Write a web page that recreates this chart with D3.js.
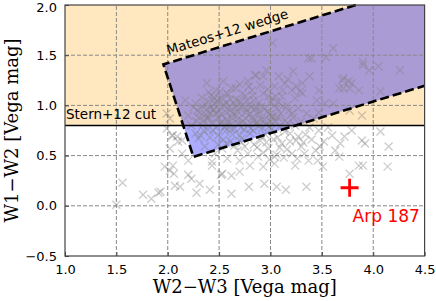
<!DOCTYPE html>
<html>
<head>
<meta charset="utf-8">
<script src="https://cdn.jsdelivr.net/npm/d3@7"></script>
<style>
  body { margin: 0; background: #fff; }
  svg { display: block; }
</style>
</head>
<body>
<div id="chart"></div>
<script>
// axis ticks
const xTicks = [1.0, 1.5, 2.0, 2.5, 3.0, 3.5, 4.0, 4.5];
const yTicks = [-0.5, 0.0, 0.5, 1.0, 1.5, 2.0];

// Stern+12 cut (W1-W2 >= 0.8)
const sternCut = 0.8;

// Mateos+12 wedge outline (W2-W3, W1-W2), drawn as dashed line
const wedgeLine = [[3.83, 2.0], [1.958, 1.408], [2.25, 0.487], [4.5, 1.196]];
// wedge fill polygon (closed by the plot corner)
const wedgeFill = [[3.83, 2.0], [1.958, 1.408], [2.25, 0.487], [4.5, 1.196], [4.5, 2.0]];

// Arp 187
const arp = { name: "Arp 187", w23: 3.77, w12: 0.18 };

// comparison sample (W2-W3, W1-W2)
const sample = [
  // low left outliers
  [1.50, 0.01], [1.56, 0.23], [1.76, 0.11], [1.84, 0.07], [1.91, 0.13], [1.93, 0.14],
  [1.97, 0.39], [2.02, 0.35], [2.05, 0.40], [2.06, 0.32], [2.07, 0.20], [2.12, 0.19],
  [2.20, 0.31], [2.23, 0.27], [2.28, 0.13], [2.31, 0.22], [2.41, 0.16], [2.43, 0.40],
  [2.52, 0.31], [2.53, 0.32], [2.62, 0.12], [2.62, 0.30], [2.70, 0.34], [2.79, 0.19],
  [2.93, 0.39], [2.94, 0.22], [3.04, 0.49], [3.06, 0.19], [3.15, 0.16], [3.24, 0.40],
  [3.33, 0.52], [3.35, 0.19], [3.46, 0.45], [3.51, 0.39], [3.67, 0.49], [3.77, 0.32],
  [3.90, 0.40], [4.14, 0.39],
  // left of the wedge
  [1.99, 0.92], [2.02, 0.87], [1.99, 0.77], [2.04, 0.70], [2.05, 0.70], [2.09, 0.69],
  [2.10, 0.64], [2.14, 0.65], [2.02, 0.57], [2.14, 0.52], [2.20, 0.45], [2.30, 0.67],
  [2.35, 0.75], [2.38, 0.87], [2.44, 0.95], [2.44, 0.75], [2.56, 0.79],
  // band below the wedge
  [2.36, 0.59], [2.46, 0.52], [2.53, 0.57], [2.61, 0.64], [2.75, 0.59], [2.88, 0.49],
  [2.98, 0.57], [3.11, 0.62], [3.21, 0.52], [3.30, 0.59], [3.37, 0.45], [3.04, 0.42],
  [2.80, 0.40], [2.68, 0.55], [2.84, 0.61], [2.93, 0.53], [3.16, 0.56], [3.26, 0.47],
  [2.58, 0.47], [2.70, 0.45], [2.43, 0.44], [3.44, 0.55], [2.99, 0.46], [3.06, 0.51],
  [2.65, 0.60], [2.70, 0.70], [2.92, 0.69], [3.14, 0.74], [3.27, 0.69], [2.85, 0.82],
  [3.01, 0.89], [3.21, 0.92],
  [2.57, 0.62], [2.72, 0.63], [2.87, 0.58], [2.96, 0.63], [3.03, 0.66], [3.09, 0.58],
  [3.19, 0.64], [3.32, 0.63], [2.49, 0.61], [2.78, 0.52], [3.13, 0.48], [3.40, 0.66],
  // right side, below the cut
  [3.47, 0.75], [3.60, 0.70], [3.68, 0.62], [3.52, 0.64], [3.79, 0.75], [3.89, 0.65],
  [3.92, 0.62], [4.07, 0.74], [3.86, 0.40], [4.15, 0.59], [3.48, 0.59], [3.89, 0.90],
  [3.47, 0.93], [3.77, 0.95], [3.61, 1.02], [3.56, 0.78], [3.72, 0.69], [3.63, 0.55],
  // dense core
  [2.25, 0.98], [2.31, 0.93], [2.36, 1.01], [2.40, 0.88], [2.45, 0.96], [2.48, 1.04],
  [2.52, 0.91], [2.55, 0.99], [2.58, 0.86], [2.61, 0.95], [2.64, 1.02], [2.67, 0.90],
  [2.70, 0.97], [2.73, 0.84], [2.76, 0.93], [2.79, 1.01], [2.82, 0.88], [2.85, 0.96],
  [2.88, 0.91], [2.91, 0.99], [2.94, 0.86], [2.97, 0.94], [3.00, 1.03], [3.03, 0.89],
  [3.06, 0.97], [3.10, 0.92], [3.14, 0.85], [3.18, 0.95], [3.22, 0.88], [3.27, 0.97],
  [2.28, 0.84], [2.34, 0.80], [2.39, 0.76], [2.43, 0.83], [2.47, 0.78], [2.51, 0.82],
  [2.56, 0.74], [2.60, 0.80], [2.65, 0.77], [2.69, 0.82], [2.74, 0.76], [2.78, 0.80],
  [2.83, 0.75], [2.87, 0.83], [2.92, 0.78], [2.96, 0.81], [3.01, 0.76], [3.05, 0.84],
  [3.09, 0.79], [3.13, 0.77], [3.17, 0.82], [3.24, 0.80], [3.30, 0.84],
  [2.33, 1.08], [2.42, 1.10], [2.50, 1.07], [2.59, 1.11], [2.66, 1.06], [2.75, 1.09],
  [2.84, 1.05], [2.93, 1.12], [3.02, 1.07], [3.08, 1.03], [3.16, 1.00], [2.57, 1.03],
  [2.71, 1.03], [2.81, 0.98], [2.47, 0.92], [2.62, 0.88], [2.38, 0.96], [2.99, 0.91],
  [3.12, 0.99], [2.20, 0.90], [2.23, 0.80], [2.27, 0.72], [2.32, 0.70], [2.41, 0.68],
  [2.49, 0.70], [2.54, 0.66], [2.63, 0.71], [2.72, 0.67], [2.80, 0.72], [2.90, 0.65],
  [2.95, 0.71], [3.07, 0.68], [3.19, 0.72], [3.25, 0.65], [3.34, 0.71], [3.38, 0.78],
  [3.42, 0.87], [3.35, 0.92],
  [2.17, 1.05], [2.27, 1.02], [2.44, 1.05], [2.53, 1.07], [2.69, 1.05], [2.83, 1.10],
  [2.98, 1.09], [3.11, 1.09], [3.24, 1.07],
  [2.29, 0.95], [2.34, 0.99], [2.37, 0.91], [2.42, 0.98], [2.46, 1.01], [2.50, 0.95],
  [2.54, 1.01], [2.57, 0.93], [2.60, 0.99], [2.63, 0.92], [2.66, 0.98], [2.68, 0.94],
  [2.72, 0.99], [2.77, 0.96], [2.80, 0.92], [2.86, 0.99], [2.89, 0.94], [2.95, 0.97],
  [2.30, 0.88], [2.35, 0.85], [2.41, 0.92], [2.49, 0.87], [2.53, 0.84], [2.59, 0.83],
  [2.68, 0.86], [2.76, 0.87], [2.84, 0.85], [2.91, 0.86], [3.00, 0.84], [3.07, 0.88],
  [2.39, 1.04], [2.45, 1.08], [2.61, 1.06], [2.77, 1.05], [2.89, 1.03], [3.04, 1.00],
  [2.55, 0.78], [2.62, 0.76], [2.71, 0.78], [2.81, 0.77], [2.89, 0.79], [2.99, 0.79],
  // upper part of the wedge
  [2.38, 1.22], [2.51, 1.14], [2.57, 1.12], [2.62, 1.17], [2.54, 1.24], [2.66, 1.17],
  [2.73, 1.12], [2.78, 1.24], [2.79, 1.19], [2.85, 1.30], [2.86, 1.30], [2.90, 1.20],
  [2.93, 1.29], [2.96, 1.35], [3.04, 1.19], [3.05, 1.09], [3.08, 1.29], [3.12, 1.15],
  [3.14, 1.22], [3.21, 1.15], [3.22, 1.34], [3.25, 1.19], [3.29, 1.14], [3.31, 1.22],
  [3.31, 1.12], [3.37, 1.47], [3.38, 1.29], [3.02, 1.62], [3.40, 1.47], [3.54, 1.48],
  [3.61, 1.57], [3.90, 1.43], [3.90, 1.40], [3.96, 1.35], [4.05, 1.39], [4.26, 1.35],
  [3.70, 1.25], [3.71, 1.27], [3.76, 1.24], [3.79, 1.22], [3.67, 1.17], [3.77, 1.17],
  [3.71, 1.17], [3.86, 1.15], [4.07, 1.14], [3.47, 1.15], [3.45, 1.05], [3.53, 1.02],
  [2.47, 1.15], [2.70, 1.21], [2.82, 1.15], [2.97, 1.16], [3.17, 1.26], [2.40, 1.13]
];

const width = 436, height = 301;
const x = d3.scaleLinear().domain([1, 4.5]).range([65, 424.6]);
const y = d3.scaleLinear().domain([-0.5, 2]).range([256, 5]);

const svg = d3.select("#chart").append("svg")
    .attr("width", width)
    .attr("height", height)
    .style("font-family", "'DejaVu Sans', sans-serif");

svg.append("rect").attr("width", width).attr("height", height).attr("fill", "#fff");

// Stern region
svg.append("rect")
    .attr("x", x(1)).attr("y", y(2))
    .attr("width", x(4.5) - x(1))
    .attr("height", y(sternCut) - y(2))
    .attr("fill", "rgb(255,165,0)")
    .attr("fill-opacity", 0.25);

// Mateos wedge
svg.append("path")
    .datum(wedgeFill)
    .attr("d", d3.line().x(d => x(d[0])).y(d => y(d[1])).curve(d3.curveLinearClosed))
    .attr("fill", "blue")
    .attr("fill-opacity", 0.33);

// grid
const grid = svg.append("g").attr("stroke", "#888").attr("stroke-width", 1)
    .attr("stroke-dasharray", "4,2");
grid.selectAll(".gx").data(xTicks.slice(1, -1)).enter().append("line")
    .attr("x1", d => x(d)).attr("x2", d => x(d))
    .attr("y1", y(-0.5)).attr("y2", y(2));
grid.selectAll(".gy").data(yTicks.slice(1, -1)).enter().append("line")
    .attr("x1", x(1)).attr("x2", x(4.5))
    .attr("y1", d => y(d)).attr("y2", d => y(d));

// sample crosses
const s = 4;
const pts = svg.append("g").attr("stroke", "gray").attr("stroke-opacity", 0.4)
    .attr("stroke-width", 1.3).attr("fill", "none");
pts.selectAll("path").data(sample).enter().append("path")
    .attr("d", d => {
        const cx = x(d[0]), cy = y(d[1]);
        return `M${cx - s},${cy - s}L${cx + s},${cy + s}M${cx - s},${cy + s}L${cx + s},${cy - s}`;
    });

// Stern cut line
svg.append("line")
    .attr("x1", x(1)).attr("x2", x(4.5))
    .attr("y1", y(sternCut)).attr("y2", y(sternCut))
    .attr("stroke", "#000").attr("stroke-width", 1.5);

// wedge outline
svg.append("path")
    .datum(wedgeLine)
    .attr("d", d3.line().x(d => x(d[0])).y(d => y(d[1])))
    .attr("fill", "none")
    .attr("stroke", "#000")
    .attr("stroke-width", 2.6)
    .attr("stroke-dasharray", "9,4");

// annotations
svg.append("text")
    .attr("x", x(1) + 1).attr("y", y(sternCut) - 6)
    .style("font-size", "13.5px")
    .text("Stern+12 cut");

const ang = Math.atan(0.315 * (y(0) - y(1)) / (x(2) - x(1))) * 180 / Math.PI;
svg.append("text")
    .attr("transform", `translate(${x(2.006)},${y(1.423) - 8}) rotate(${-ang})`)
    .style("font-size", "13.5px")
    .text("Mateos+12 wedge");

// Arp 187
const ps = 9;
svg.append("path")
    .attr("d", `M${x(arp.w23) - ps},${y(arp.w12)}L${x(arp.w23) + ps},${y(arp.w12)}M${x(arp.w23)},${y(arp.w12) - ps}L${x(arp.w23)},${y(arp.w12) + ps}`)
    .attr("stroke", "red").attr("stroke-width", 2.8);
svg.append("text")
    .attr("x", x(arp.w23) + 3).attr("y", y(arp.w12) + 34)
    .attr("fill", "red")
    .style("font-size", "17px")
    .text(arp.name);

// axes
const xAxis = svg.append("g")
    .attr("transform", `translate(0,${y(-0.5)})`)
    .call(d3.axisBottom(x).tickValues(xTicks).tickFormat(d3.format(".1f"))
        .tickSizeInner(-4).tickSizeOuter(0).tickPadding(9));
const yAxis = svg.append("g")
    .attr("transform", `translate(${x(1)},0)`)
    .call(d3.axisLeft(y).tickValues(yTicks).tickFormat(d3.format(".1f"))
        .tickSizeInner(-4).tickSizeOuter(0).tickPadding(8));
[xAxis, yAxis].forEach(a => {
    a.select(".domain").remove();
    a.selectAll("line").attr("stroke", "#444");
    a.selectAll("text").style("font-family", "'DejaVu Sans', sans-serif")
        .style("font-size", "13px").attr("fill", "#000");
});
// keep the top tick label inside the picture
yAxis.selectAll(".tick text").filter(d => d === 2.0).attr("dy", "0.5em");

// frame
svg.append("rect")
    .attr("x", x(1)).attr("y", y(2))
    .attr("width", x(4.5) - x(1)).attr("height", y(-0.5) - y(2))
    .attr("fill", "none").attr("stroke", "#444").attr("stroke-width", 1.2);

// axis labels
svg.append("text")
    .attr("x", (x(1) + x(4.5)) / 2).attr("y", 293)
    .attr("text-anchor", "middle")
    .style("font-family", "'DejaVu Serif', serif")
    .style("font-size", "18px")
    .text("W2\u2212W3 [Vega mag]");

svg.append("text")
    .attr("transform", `translate(18,${(y(-0.5) + y(2)) / 2}) rotate(-90)`)
    .attr("text-anchor", "middle")
    .style("font-family", "'DejaVu Serif', serif")
    .style("font-size", "18px")
    .text("W1\u2212W2 [Vega mag]");
</script>
</body>
</html>
